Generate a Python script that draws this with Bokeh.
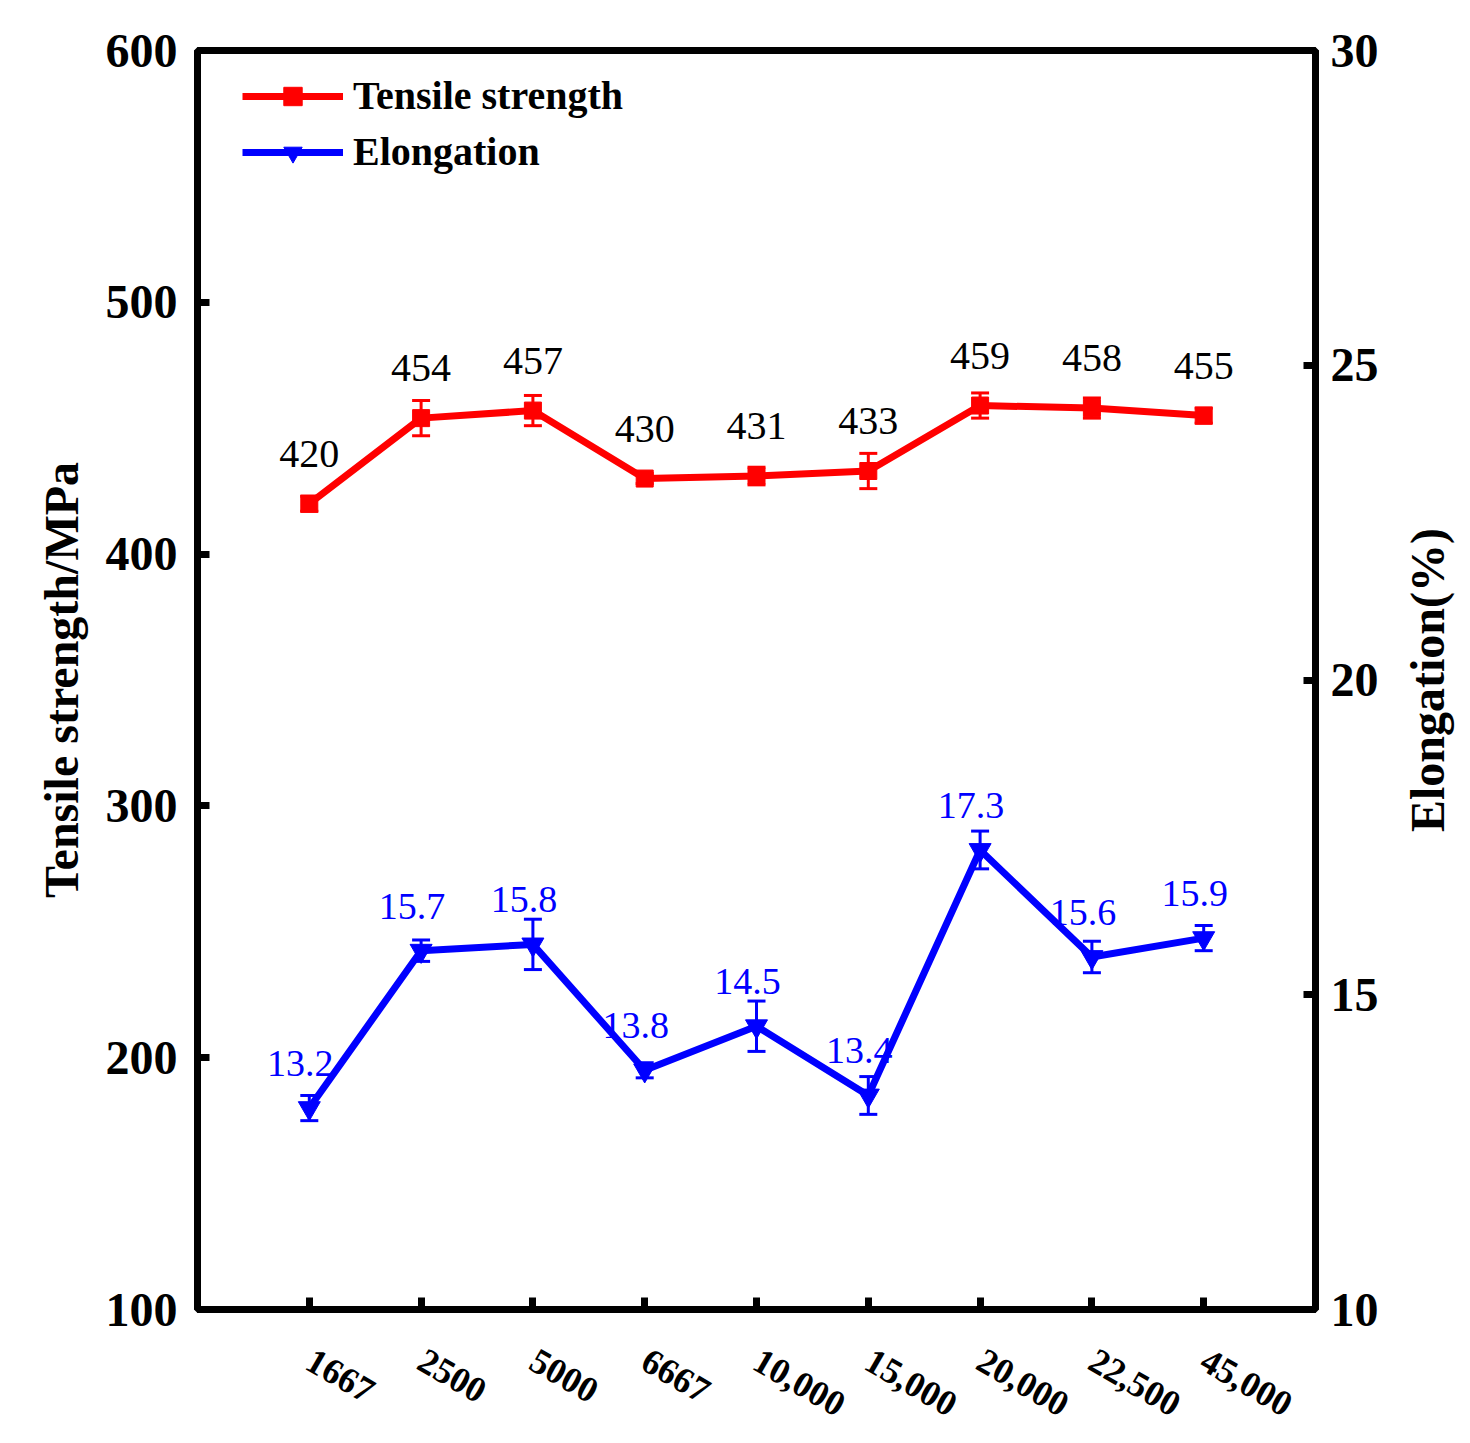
from math import pi
from bokeh.plotting import figure
from bokeh.layouts import row
from bokeh.models import (ColumnDataSource, LinearAxis, Range1d, FixedTicker, Whisker,
                          TeeHead, LabelSet, Legend, LegendItem)
from bokeh.embed import file_html
from bokeh.resources import INLINE
from bokeh.core.properties import value

categories = ["1667", "2500", "5000", "6667", "10,000", "15,000", "20,000", "22,500", "45,000"]
tensile = [420, 454, 457, 430, 431, 433, 459, 458, 455]
tensile_err = [3, 7, 6, 2, 3.5, 7, 5, 4, 3]
elong = [13.2, 15.7, 15.8, 13.8, 14.5, 13.4, 17.3, 15.6, 15.9]
elong_err = [0.2, 0.17, 0.4, 0.12, 0.4, 0.3, 0.3, 0.25, 0.2]
left_ticks = [100, 200, 300, 400, 500, 600]
right_ticks = [10, 15, 20, 25, 30]
left_title = "Tensile strength/MPa"
right_title = "Elongation(%)"

FONT = "Liberation Serif"
RED = "#FF0000"
BLUE = "#0000FF"

xs = list(range(1, len(categories) + 1))
src = ColumnDataSource(dict(
    x=xs,
    ts=tensile,
    ts_lo=[v - e for v, e in zip(tensile, tensile_err)],
    ts_hi=[v + e for v, e in zip(tensile, tensile_err)],
    el=elong,
    el_lo=[v - e for v, e in zip(elong, elong_err)],
    el_hi=[v + e for v, e in zip(elong, elong_err)],
    ts_lab=[str(v) for v in tensile],
    el_lab=[f"{v:.1f}" for v in elong],
))

p = figure(width=1390, height=1430, x_range=Range1d(0, len(categories) + 1),
           y_range=Range1d(left_ticks[0], left_ticks[-1]),
           output_backend="svg", toolbar_location=None,
           min_border_left=197, min_border_right=75, min_border_top=50, min_border_bottom=118)
p.extra_y_ranges = {"right": Range1d(right_ticks[0], right_ticks[-1])}
p.xgrid.visible = False
p.ygrid.visible = False
p.outline_line_color = "black"
p.outline_line_width = 7
p.outline_line_alpha = 1.0
p.background_fill_color = "white"
p.border_fill_color = "white"


def style_axis(ax):
    ax.axis_line_width = 7
    ax.axis_line_color = "black"
    ax.major_tick_in = 12
    ax.major_tick_out = 0
    ax.major_tick_line_width = 7
    ax.minor_tick_line_color = None
    ax.major_label_text_font = FONT
    ax.major_label_text_font_style = "bold"
    ax.major_label_text_color = "black"
    ax.axis_label_text_font = FONT
    ax.axis_label_text_font_style = "bold"
    ax.axis_label_text_font_size = "48px"
    ax.axis_label_text_color = "black"


xa = p.xaxis[0]
style_axis(xa)
xa.ticker = FixedTicker(ticks=xs)
xa.major_label_overrides = {i: c for i, c in zip(xs, categories)}
xa.major_label_orientation = -pi / 6
xa.major_label_text_font_size = "36px"
xa.major_label_standoff = 48

ya = p.yaxis[0]
style_axis(ya)
ya.ticker = FixedTicker(ticks=left_ticks)
ya.major_label_text_font_size = "48px"
ya.major_label_standoff = 20
ya.axis_label = left_title
ya.axis_label_standoff = 15

ra = LinearAxis(y_range_name="right", ticker=FixedTicker(ticks=right_ticks))
style_axis(ra)
ra.major_label_text_font_size = "48px"
ra.major_label_standoff = 15
p.add_layout(ra, "right")

# error bars
p.add_layout(Whisker(source=src, base="x", upper="ts_hi", lower="ts_lo", dimension="height",
                     line_color=RED, line_width=3,
                     upper_head=TeeHead(size=18, line_color=RED, line_width=3),
                     lower_head=TeeHead(size=18, line_color=RED, line_width=3)))
p.add_layout(Whisker(source=src, base="x", upper="el_hi", lower="el_lo", dimension="height",
                     y_range_name="right", line_color=BLUE, line_width=3,
                     upper_head=TeeHead(size=18, line_color=BLUE, line_width=3),
                     lower_head=TeeHead(size=18, line_color=BLUE, line_width=3)))

ts_line = p.line("x", "ts", source=src, line_color=RED, line_width=7)
ts_mark = p.scatter("x", "ts", source=src, marker="square", size=17, fill_color=RED, line_color=RED)
el_line = p.line("x", "el", source=src, line_color=BLUE, line_width=7, y_range_name="right")
el_mark = p.scatter("x", "el", source=src, marker="inverted_triangle", size=22,
                    fill_color=BLUE, line_color=BLUE, y_range_name="right")

p.add_layout(LabelSet(x="x", y="ts", text="ts_lab", source=src, y_offset=37,
                      text_align="center", text_baseline="alphabetic",
                      text_font=value(FONT), text_font_size="40px", text_color="black"))
p.add_layout(LabelSet(x="x", y="el", text="el_lab", source=src, y_offset=32, x_offset=-9,
                      y_range_name="right",
                      text_align="center", text_baseline="alphabetic",
                      text_font=value(FONT), text_font_size="38px", text_color=BLUE))

legend = Legend(items=[LegendItem(label="Tensile strength", renderers=[ts_line, ts_mark]),
                       LegendItem(label="Elongation", renderers=[el_line, el_mark])],
                location=(45, 1134), margin=0, padding=0, spacing=9,
                glyph_width=101, glyph_height=46, label_height=46, label_standoff=10,
                label_text_font=FONT, label_text_font_style="bold", label_text_font_size="40px",
                label_text_color="black",
                border_line_alpha=0, background_fill_alpha=0)
p.add_layout(legend)

# right-hand axis title (reads bottom-to-top), in a narrow companion figure
q = figure(width=74, height=1430, x_range=Range1d(0, 1),
           y_range=Range1d(right_ticks[0], right_ticks[-1]),
           output_backend="svg", toolbar_location=None,
           x_axis_location=None, y_axis_location=None,
           min_border_left=0, min_border_right=0, min_border_top=50, min_border_bottom=118)
q.xgrid.visible = False
q.ygrid.visible = False
q.outline_line_color = None
q.text(x=[0.5], y=[(right_ticks[0] + right_ticks[-1]) / 2], text=[right_title], angle=pi / 2,
       text_align="center", text_baseline="middle", text_font=value(FONT),
       text_font_style="bold", text_font_size="48px", text_color="black")

open("out.html", "w").write(file_html(row(p, q), INLINE))
